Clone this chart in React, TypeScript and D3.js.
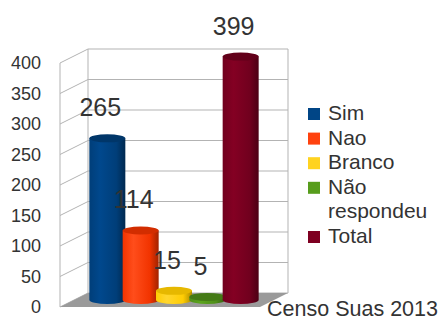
import React from "react";
import * as d3 from "d3";

const categories = ["Sim", "Nao", "Branco", "Não respondeu", "Total"];
const values = [265, 114, 15, 5, 399];
const colors = ["#004586", "#ff420e", "#ffd320", "#579d1c", "#7e0021"];
const legendLines = [["Sim"], ["Nao"], ["Branco"], ["Não", "respondeu"], ["Total"]];
const yTicks = [0, 50, 100, 150, 200, 250, 300, 350, 400];
const caption = "Censo Suas 2013";

const W = 440, H = 320;
const FONT = "'Liberation Sans', Arial, sans-serif";
const TEXT = "#333333";

export default function App() {
  // front plane geometry
  const x0 = 60, x1 = 260;
  const depthX = 28, depthY = -14;
  const yFront = d3.scaleLinear().domain([0, 400]).range([307, 63]);
  // bars sit in middle depth
  const midDX = depthX / 2, midDY = depthY / 2;
  const xBar = d3.scalePoint<string>().domain(categories).range([x0 + midDX, x1 + midDX]).padding(1);
  const yMid = (v: number) => yFront(v) + midDY;
  const barW = 36, rx = barW / 2, ry = 4;

  const floor = [
    [x0, yFront(0)], [x1, yFront(0)], [x1 + depthX, yFront(0) + depthY], [x0 + depthX, yFront(0) + depthY],
  ];
  const backTop = yFront(400) + depthY;
  const backBottom = yFront(0) + depthY;

  const shade = (c: string, k: number) => {
    const h = d3.hsl(c);
    h.l = Math.max(0, Math.min(1, h.l * k));
    return h.formatHex();
  };

  return (
    <div style={{ position: "fixed", left: 0, top: 0 }}>
      <svg width={W} height={H} style={{ display: "block", background: "#fff" }}>
        <defs>
          {colors.map((c, i) => (
            <linearGradient key={i} id={"g" + i} x1="0" x2="1" y1="0" y2="0">
              <stop offset="0%" stopColor={shade(c, 0.9)} />
              <stop offset="30%" stopColor={shade(c, 1.05)} />
              <stop offset="75%" stopColor={shade(c, 0.9)} />
              <stop offset="100%" stopColor={shade(c, 0.6)} />
            </linearGradient>
          ))}
        </defs>
        {/* walls */}
        <g stroke="#b3b3b3" strokeWidth={1} fill="none">
          {yTicks.map((t) => (
            <g key={t}>
              <line x1={x0} y1={yFront(t)} x2={x0 + depthX} y2={yFront(t) + depthY} />
              <line x1={x0 + depthX} y1={yFront(t) + depthY} x2={x1 + depthX} y2={yFront(t) + depthY} />
            </g>
          ))}
          <line x1={x0} y1={yFront(0)} x2={x0} y2={yFront(400)} />
          <line x1={x0 + depthX} y1={backBottom} x2={x0 + depthX} y2={backTop} />
          <line x1={x1 + depthX} y1={backBottom} x2={x1 + depthX} y2={backTop} />
        </g>
        <polygon points={floor.map((p) => p.join(",")).join(" ")} fill="#9a9a9a" />
        {/* y tick labels */}
        {yTicks.map((t) => (
          <text key={t} x={41} y={yFront(t)} dy="0.35em" textAnchor="end" fontFamily={FONT} fontSize={18} fill={TEXT}>
            {t}
          </text>
        ))}
        {/* cylinders */}
        {categories.map((cat, i) => {
          const cx = xBar(cat)!;
          const yb = yMid(0);
          const yt = yMid(values[i]);
          const body = `M${cx - rx},${yt} L${cx - rx},${yb} A${rx},${ry} 0 0 0 ${cx + rx},${yb} L${cx + rx},${yt} Z`;
          return (
            <g key={cat}>
              <path d={body} fill={`url(#g${i})`} />
              <ellipse cx={cx} cy={yt} rx={rx} ry={ry} fill={shade(colors[i], i === 2 ? 0.8 : 0.78)} />
            </g>
          );
        })}
        {/* data labels */}
        {categories.map((cat, i) => (
          <text key={cat} x={xBar(cat)! - 7} y={yMid(values[i]) - 22} textAnchor="middle" fontFamily={FONT} fontSize={25} fill={TEXT}>
            {values[i]}
          </text>
        ))}
        {/* legend */}
        {(() => {
          let line = 0;
          const base = 120, step = 24.6;
          return legendLines.map((ls, i) => {
            const y0 = base + line * step;
            line += ls.length;
            return (
              <g key={i}>
                <rect x={308} y={y0 - 12} width={12} height={12} fill={colors[i]} />
                {ls.map((s, j) => (
                  <text key={j} x={328} y={y0 + j * step} fontFamily={FONT} fontSize={21} fill={TEXT}>
                    {s}
                  </text>
                ))}
              </g>
            );
          });
        })()}
        <text x={438} y={316} textAnchor="end" fontFamily={FONT} fontSize={21.5} fill={TEXT}>
          {caption}
        </text>
      </svg>
    </div>
  );
}
